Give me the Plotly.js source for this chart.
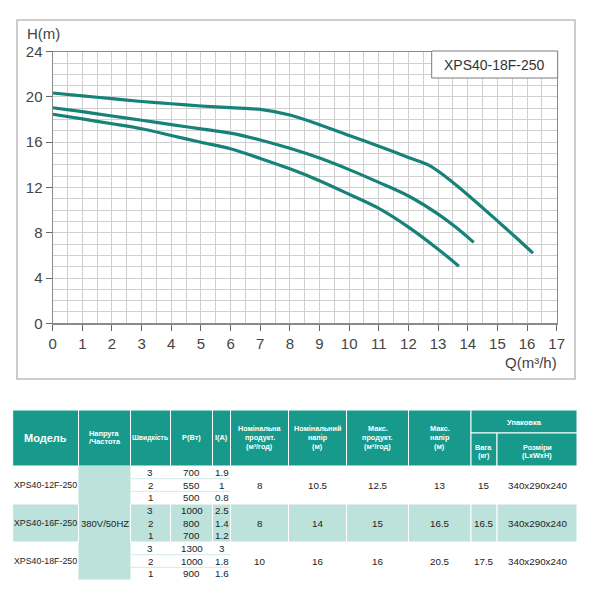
<!DOCTYPE html>
<html>
<head>
<meta charset="utf-8">
<script src="https://cdn.plot.ly/plotly-3.0.1.min.js"></script>
<style>html,body{margin:0;padding:0;background:#fff;}#chart{width:590px;height:590px;}</style>
</head>
<body>
<div id="chart"></div>
<script>
// ---- curve data (Q m3/h, H m) ----
const qSpeed3 = [0,1,2,3,4,5,6,7,8,9,10,11,12,12.7,13.5,14.2,15,15.6,16.2];
const hSpeed3 = [20.35,20.1,19.85,19.6,19.4,19.2,19.05,18.9,18.4,17.55,16.6,15.65,14.65,13.95,12.45,10.9,9.05,7.65,6.2];
const qSpeed2 = [0,1,2,3,4,5,6,7,8,9,10,11,12,13,13.6,14.2];
const hSpeed2 = [19.05,18.7,18.32,17.94,17.56,17.18,16.8,16.2,15.46,14.6,13.58,12.45,11.25,9.65,8.48,7.15];
const qSpeed1 = [0,1,2,3,4,5,6,7,8,9,10,11,12,13,13.7];
const hSpeed1 = [18.47,18.06,17.63,17.19,16.6,16.0,15.42,14.57,13.65,12.6,11.4,10.15,8.5,6.55,5.05];
const chartLabel = 'XPS40-18F-250';

// ---- table data ----
const models = ['XPS40-12F-250','XPS40-16F-250','XPS40-18F-250'];
const voltage = '380V/50HZ';
const speeds = [3,2,1];
const powerW = [[700,550,500],[1000,800,700],[1300,1000,900]];
const currentA = [[1.9,1,0.8],[2.5,1.4,1.2],[3,1.8,1.6]];
const nomFlow = [8,8,10];
const nomHead = [10.5,14,16];
const maxFlow = [12.5,15,16];
const maxHead = [13,16.5,20.5];
const weightKg = [15,16.5,17.5];
const dimsMM = ['340x290x240','340x290x240','340x290x240'];
const headerMain = [['Модель'],['Напруга','/Частота'],['Швидкість'],['P(Вт)'],['I(A)'],
  ['Номінальна','продукт.','(м³/год)'],['Номінальний','напір','(м)'],['Макс.','продукт.','(м³/год)'],['Макс.','напір','(м)']];
const headerPack = 'Упаковка';
const headerSub = [['Вага','(кг)'],['Розміри','(LxWxH)']];

// ---- layout geometry (pixels) ----
const W = 590, Hh = 590;
const px = v => v / W;
const py = v => 1 - v / Hh;
const colEdges = [12.7, 78.5, 130.5, 170.5, 212.5, 230.5, 288.5, 346.5, 408.5, 471, 497, 577];
const hdrTop = 410, hdrMid = 433, hdrBot = 466;
const groupTops = [466, 504, 542], groupBot = 579.5;
const subH = (504 - 466) / 3;
const TEAL = '#179a8b', LIGHT = '#bce2db', CURVE = '#168278';
const SANS = 'Liberation Sans, Arial, sans-serif';

const shapes = [];
const annotations = [];
function rect(x0,y0,x1,y1,fill,lineColor,lw){
  shapes.push({type:'rect',xref:'paper',yref:'paper',x0:px(x0),x1:px(x1),y0:py(y1),y1:py(y0),
    fillcolor:fill,line:{color:lineColor,width:lw}});
}
function hline(x0,x1,y,color,lw){
  shapes.push({type:'line',xref:'paper',yref:'paper',x0:px(x0),x1:px(x1),y0:py(y),y1:py(y),line:{color:color,width:lw}});
}
function txt(x,y,t,size,color,bold,xanchor){
  annotations.push({xref:'paper',yref:'paper',x:px(x),y:py(y),text:bold?'<b>'+t+'</b>':t,showarrow:false,
    xanchor:xanchor||'center',yanchor:'middle',font:{size:size,color:color,family:SANS},borderpad:0});
}
const cx = i => (colEdges[i] + colEdges[i+1]) / 2;

// chart frame and label box
rect(17,20,575,379,'rgba(0,0,0,0)','#bdbdbd',1.5);
rect(431.7,51,557.7,78,'#ffffff','#7a7a7a',1);
txt(494.7,64.5,chartLabel,14,'#333',false);
txt(26,33.5,'H(m)',15,'#444',false,'left');
txt(558,362,'Q(m³/h)',15,'#444',false,'right');

// header
const hdrSizes = [11,7.4,6.8,7.4,7.4,7.2,7.2,7.3,7.3];
for (let i = 0; i < headerMain.length; i++) {
  rect(colEdges[i],hdrTop,colEdges[i+1],hdrBot,TEAL,'#ffffff',1);
  const lines = headerMain[i];
  const step = 8.6;
  const mid = 437.5;
  lines.forEach((l,k) => txt(cx(i), mid + (k - (lines.length-1)/2)*step, l, hdrSizes[i], '#ffffff', true));
}
rect(colEdges[9],hdrTop,colEdges[11],hdrMid,TEAL,'#ffffff',1);
txt((colEdges[9]+colEdges[11])/2,422,headerPack,7.5,'#ffffff',true);
for (let j = 0; j < 2; j++) {
  rect(colEdges[9+j],hdrMid,colEdges[10+j],hdrBot,TEAL,'#ffffff',1);
  headerSub[j].forEach((l,k) => txt(cx(9+j), 447.5 + k*8.4, l, 7.3, '#ffffff', true));
}

// body backgrounds
rect(colEdges[1],hdrBot,colEdges[2],groupBot,LIGHT,LIGHT,0);
for (let i = 0; i < 11; i++) {
  if (i === 1) continue;
  rect(colEdges[i],groupTops[1],colEdges[i+1],groupTops[1]+3*subH,LIGHT,'#ffffff',1);
}
[0,2].forEach(g => {
  hline(colEdges[2],colEdges[5],groupTops[g]+subH,'#d3eae6',1);
  hline(colEdges[2],colEdges[5],groupTops[g]+2*subH,'#d3eae6',1);
});

// body text
const BODY = '#222';
const VS = 9.8;
txt(cx(1),(hdrBot+groupBot)/2 + 0.5,voltage,9.5,BODY,false);
for (let g = 0; g < 3; g++) {
  const top = groupTops[g];
  const gm = top + 1.5*subH;
  txt(cx(0),gm,models[g],8.8,BODY,false);
  for (let r = 0; r < 3; r++) {
    const ry = top + (r+0.5)*subH;
    txt(cx(2),ry,String(speeds[r]),VS,BODY,false);
    txt(cx(3),ry,String(powerW[g][r]),VS,BODY,false);
    txt(cx(4),ry,String(currentA[g][r]),VS,BODY,false);
  }
  txt(cx(5),gm,String(nomFlow[g]),VS,BODY,false);
  txt(cx(6),gm,String(nomHead[g]),VS,BODY,false);
  txt(cx(7),gm,String(maxFlow[g]),VS,BODY,false);
  txt(cx(8),gm,String(maxHead[g]),VS,BODY,false);
  txt(cx(9),gm,String(weightKg[g]),VS,BODY,false);
  txt(cx(10),gm,dimsMM[g],VS,BODY,false);
}

const lineStyle = {color:CURVE,width:3.2,shape:'spline',smoothing:0.9};
const traces = [
  {x:qSpeed3,y:hSpeed3,mode:'lines',line:lineStyle,hoverinfo:'x+y',name:'3'},
  {x:qSpeed2,y:hSpeed2,mode:'lines',line:lineStyle,hoverinfo:'x+y',name:'2'},
  {x:qSpeed1,y:hSpeed1,mode:'lines',line:lineStyle,hoverinfo:'x+y',name:'1'}
];

const gridC = '#cfcfcf';
const layout = {
  width:W,height:Hh,autosize:false,
  margin:{l:0,r:0,t:0,b:0,pad:0},
  paper_bgcolor:'#ffffff',plot_bgcolor:'#ffffff',
  showlegend:false,
  font:{family:SANS,color:'#444'},
  xaxis:{domain:[px(52.7),px(556.7)],range:[0,17],dtick:1,tick0:0,
    showgrid:true,gridcolor:gridC,gridwidth:1,
    minor:{dtick:0.5,showgrid:true,gridcolor:gridC,gridwidth:1},
    ticks:'outside',ticklen:6,tickcolor:'#666',tickwidth:1,
    showline:true,linecolor:'#8a8a8a',linewidth:1.2,mirror:true,zeroline:false,
    tickfont:{size:15,color:'#444',family:SANS},fixedrange:true},
  yaxis:{domain:[py(323.3),py(51.7)],range:[0,24],dtick:4,tick0:0,
    showgrid:true,gridcolor:gridC,gridwidth:1,
    minor:{dtick:1,showgrid:true,gridcolor:gridC,gridwidth:1},
    ticks:'outside',ticklen:6,tickcolor:'#666',tickwidth:1,
    showline:true,linecolor:'#8a8a8a',linewidth:1.2,mirror:true,zeroline:false,
    tickfont:{size:15,color:'#444',family:SANS},fixedrange:true},
  shapes:shapes,
  annotations:annotations
};
Plotly.newPlot('chart',traces,layout,{displayModeBar:false,staticPlot:true});
</script>
</body>
</html>
